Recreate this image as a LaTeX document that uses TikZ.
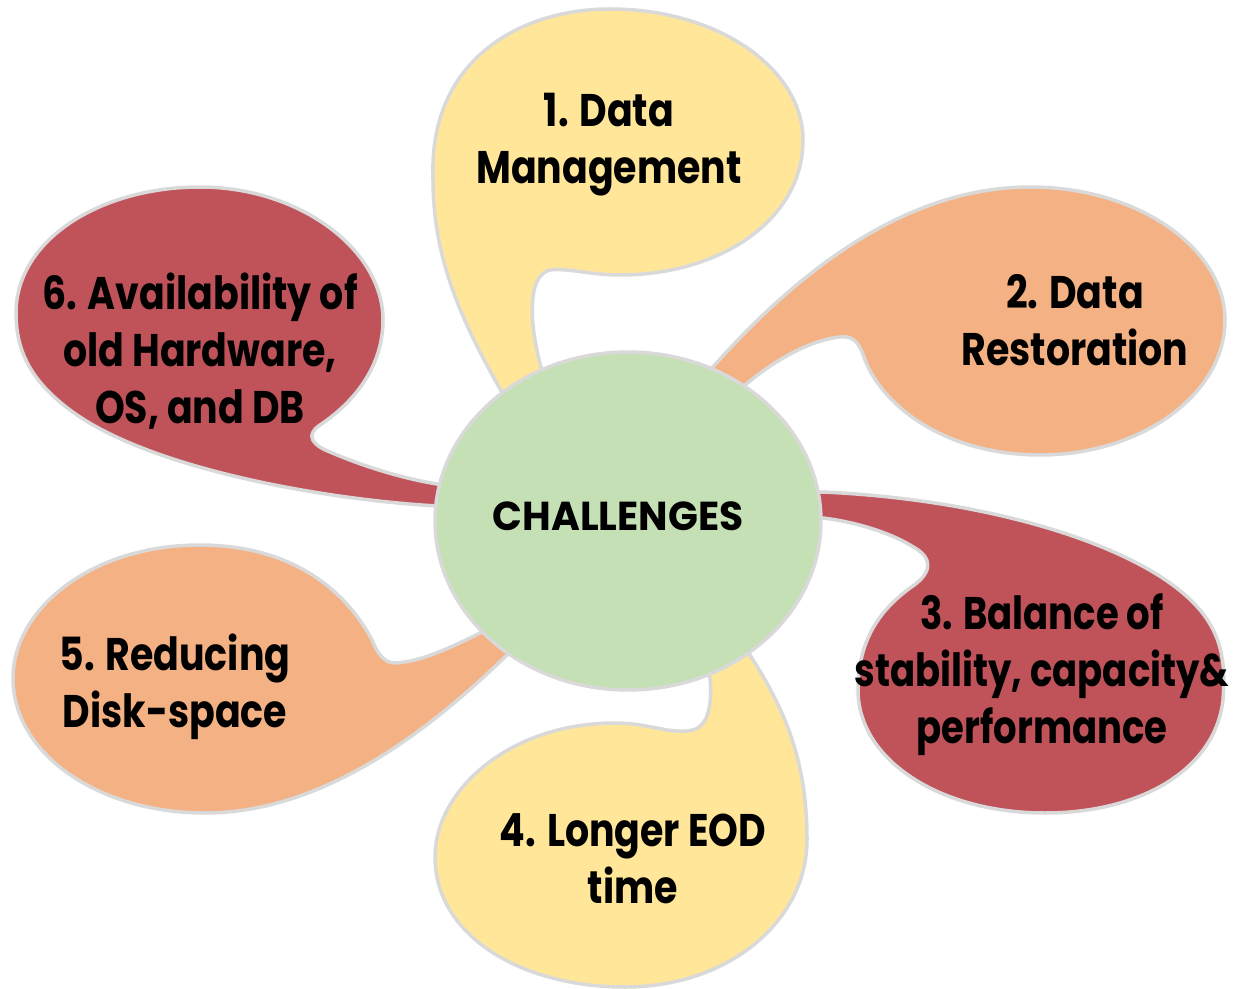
\documentclass[tikz,border=0pt]{standalone}
\usepackage{fontspec}
\newfontfamily\lbl{Poppins}[FakeStretch=0.83]
\newfontfamily\lbln{Poppins}[FakeStretch=0.81]
\newfontfamily\lblc{Poppins}[FakeStretch=0.97]
\definecolor{cyel}{HTML}{FFE699}
\definecolor{cora}{HTML}{F4B183}
\definecolor{cred}{HTML}{C0525A}
\definecolor{cgrn}{HTML}{C5E0B4}
\definecolor{cline}{HTML}{D9D9D9}
\tikzset{
  bubble/.style={draw=cline, line width=0.07cm, line join=round},
  lbltext/.style={align=center, text=black, font=\lbl\bfseries\fontsize{26}{32.4}\selectfont, inner sep=0pt},
}
\begin{document}
\begin{tikzpicture}[x=0.02cm, y=-0.02cm]
\useasboundingbox (0,0) rectangle (1233,989);
% bubble 1 (top, yellow)
\path[bubble, fill=cyel] (530,440) .. controls (470,340) and (432,270) .. (433,175)
  .. controls (430,60) and (520,9) .. (610,9)
  .. controls (720,9) and (803,70) .. (803,140)
  .. controls (803,220) and (720,275) .. (620,275)
  .. controls (590,275) and (570,268) .. (550,270)
  .. controls (530,275) and (530,310) .. (535,340)
  .. controls (540,370) and (550,400) .. (570,440) -- cycle;
% bubble 2 (right, orange)
\path[bubble, fill=cora] (730,410) -- (712,368) .. controls (790,280) and (900,187) .. (1030,187)
  .. controls (1140,187) and (1225,250) .. (1225,320)
  .. controls (1225,395) and (1140,455) .. (1040,455)
  .. controls (950,455) and (885,410) .. (865,360)
  .. controls (860,345) and (855,335) .. (840,337)
  .. controls (810,340) and (775,360) .. (745,385) -- (740,420) -- cycle;
% bubble 3 (lower right, red)
\path[bubble, fill=cred] (790,492) -- (823,492) .. controls (1000,500) and (1150,550) .. (1200,610)
  .. controls (1225,640) and (1225,670) .. (1223,700)
  .. controls (1215,770) and (1140,813) .. (1045,813)
  .. controls (940,813) and (858,760) .. (858,690)
  .. controls (858,640) and (880,610) .. (910,588)
  .. controls (930,575) and (935,560) .. (915,548)
  .. controls (890,532) and (855,522) .. (823,518) -- (790,518) -- cycle;
% bubble 4 (bottom, yellow)
\path[bubble, fill=cyel] (700,640) -- (710,678) .. controls (712,700) and (710,725) .. (693,730)
  .. controls (670,735) and (650,723) .. (615,723)
  .. controls (510,723) and (435,790) .. (435,857)
  .. controls (435,935) and (520,987) .. (625,987)
  .. controls (730,987) and (807,920) .. (807,840)
  .. controls (807,760) and (785,710) .. (750,655) -- (730,640) -- cycle;
% bubble 5 (lower left, orange)
\path[bubble, fill=cora] (530,620) -- (480,633) .. controls (450,648) and (420,662) .. (395,663)
  .. controls (385,663) and (378,655) .. (372,640)
  .. controls (340,580) and (280,545) .. (200,545)
  .. controls (90,545) and (13,610) .. (13,678)
  .. controls (13,755) and (100,813) .. (205,813)
  .. controls (330,813) and (440,720) .. (507,655) -- (540,640) -- cycle;
% bubble 6 (upper left, red)
\path[bubble, fill=cred] (470,507) -- (437,506) .. controls (330,500) and (150,470) .. (70,410)
  .. controls (30,380) and (16,350) .. (16,313)
  .. controls (16,240) and (100,187) .. (200,187)
  .. controls (300,187) and (383,250) .. (383,320)
  .. controls (383,370) and (350,405) .. (320,425)
  .. controls (305,435) and (312,445) .. (330,452)
  .. controls (360,465) and (400,478) .. (437,484) -- (470,487) -- cycle;
% centre
\path[bubble, fill=cgrn] (628,521) ellipse [x radius=3.86cm, y radius=3.38cm];
\node[lbltext, font=\lblc\bfseries\fontsize{23}{27}\selectfont] (center) at (618,516) {CHALLENGES};
\node[lbltext] (t1) at (609,145) {1. Data\\Management};
\node[lbltext] (t2) at (1075,320) {2. Data\\Restoration};
\node[lbltext, font=\lbln\bfseries\fontsize{26}{32.4}\selectfont] (t3) at (1042,675) {3. Balance of\\stability, capacity\&\\performance};
\node[lbltext] (t4) at (633,859) {4. Longer EOD\\time};
\node[lbltext] (t5) at (175,687) {5. Reducing\\Disk-space};
\node[lbltext] (t6) at (200,351) {6. Availability of\\old Hardware,\\OS, and DB};
\end{tikzpicture}
\end{document}
